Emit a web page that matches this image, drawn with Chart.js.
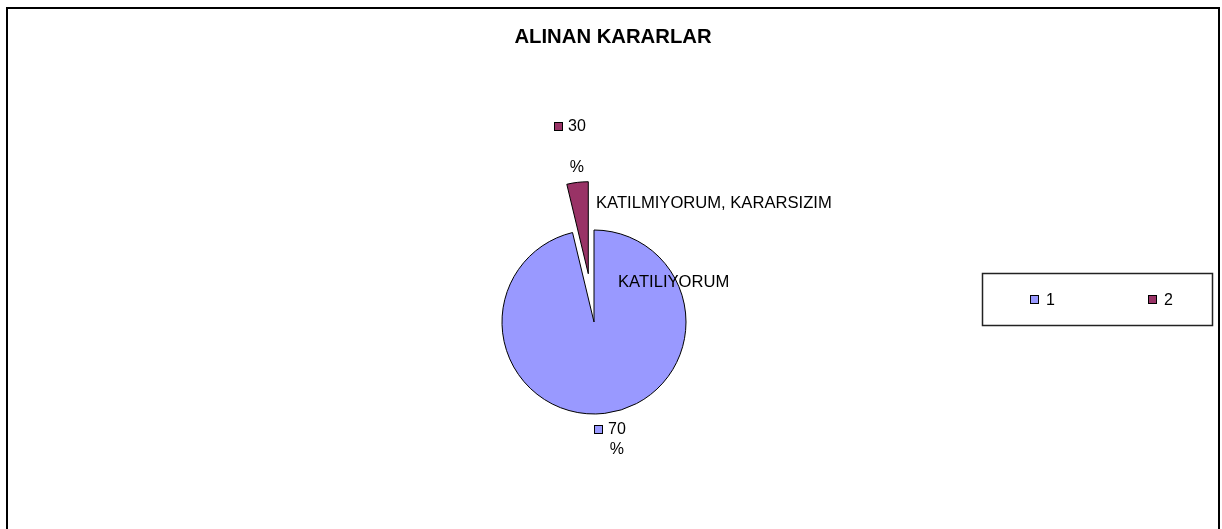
<!DOCTYPE html>
<html>
<head>
<meta charset="utf-8">
<title>ALINAN KARARLAR</title>
<script src="https://cdn.jsdelivr.net/npm/chart.js@4.4.1/dist/chart.umd.min.js"></script>
<style>
  html, body { margin: 0; padding: 0; background: #fff; overflow: hidden; }
  #wrap { position: relative; width: 1222px; height: 529px; }
  #frame {
    position: absolute; left: 6px; top: 7px; width: 1214px; height: 600px;
    border: 2px solid #000; box-sizing: border-box;
  }
  #chart { position: absolute; left: 0; top: 0; }
</style>
</head>
<body>
<div id="wrap">
  <div id="frame"></div>
  <canvas id="chart" width="1222" height="529"></canvas>
</div>
<script>
// chart data
const titleText = "ALINAN KARARLAR";
const legendLabels = ["1", "2"];
const categories = ["KATILIYORUM", "KATILMIYORUM, KARARSIZIM"];
const shares = [96.25, 3.75];          // slice sizes as drawn
const percentText = ["70", "30"];      // data label text shown on the chart
const sliceColors = ["#9999FF", "#993366"];

const FONT = "Arial, 'Liberation Sans', sans-serif";

// label placement, relative to the pie centre
const categoryPos = [
  { dx: 24, dy: -40 },
  { dx: 2, dy: -119 },
];
const percentPos = [
  { dx: 0, dy: 107, pctDy: 128 },
  { dx: -40, dy: -196, pctDy: -154 },
];

function drawKey(ctx, x, y, color) {
  ctx.fillStyle = color;
  ctx.fillRect(x, y, 9, 9);
  ctx.strokeStyle = "#000";
  ctx.lineWidth = 1;
  ctx.strokeRect(x + 0.5, y + 0.5, 8, 8);
}

// Excel style explode: move the whole slice out along its middle angle,
// same size and angle (chart.js offset also grows/narrows the arc)
const explodeSlices = {
  id: "explodeSlices",
  afterDatasetsUpdate(chart, args, opts) {
    const dist = opts.distance || [];
    chart.getDatasetMeta(0).data.forEach((arc, i) => {
      const d = dist[i] || 0;
      if (!d) return;
      const mid = (arc.startAngle + arc.endAngle) / 2;
      arc.x += Math.cos(mid) * d;
      arc.y += Math.sin(mid) * d;
    });
  },
};

const textLayer = {
  id: "textLayer",
  afterDatasetsDraw(chart) {
    const ctx = chart.ctx;
    const arcs = chart.getDatasetMeta(0).data;
    const cx = arcs[0].x;
    const cy = arcs[0].y;
    const colors = chart.data.datasets[0].backgroundColor;

    ctx.save();
    ctx.textBaseline = "middle";

    // title
    ctx.fillStyle = "#000";
    ctx.font = "bold 20.3px " + FONT;
    ctx.textAlign = "center";
    ctx.fillText(titleText, 613, 37);

    // category names
    ctx.font = "16.6px " + FONT;
    ctx.textAlign = "left";
    categories.forEach((c, i) => {
      ctx.fillStyle = "#000";
      ctx.fillText(c, cx + categoryPos[i].dx, cy + categoryPos[i].dy);
    });

    // percent labels with legend key
    ctx.font = "16px " + FONT;
    percentText.forEach((t, i) => {
      const p = percentPos[i];
      const kx = Math.round(cx + p.dx);
      const ky = Math.round(cy + p.dy - 4.5);
      drawKey(ctx, kx, ky, colors[i]);
      ctx.fillStyle = "#000";
      ctx.textAlign = "left";
      const tx = kx + 14;
      ctx.fillText(t, tx, cy + p.dy + 1);
      const w = ctx.measureText(t).width;
      ctx.textAlign = "center";
      ctx.fillText("%", tx + w / 2, cy + p.pctDy);
    });

    // legend box
    ctx.strokeStyle = "#222";
    ctx.lineWidth = 1.5;
    ctx.strokeRect(982.5, 273.5, 230, 52);
    const itemX = [1030, 1148];
    chart.data.labels.forEach((l, i) => {
      drawKey(ctx, itemX[i], 295, colors[i]);
      ctx.fillStyle = "#000";
      ctx.textAlign = "left";
      ctx.fillText(l, itemX[i] + 16, 300.5);
    });

    ctx.restore();
  },
};

new Chart(document.getElementById("chart"), {
  type: "pie",
  data: {
    labels: legendLabels,
    datasets: [
      {
        data: shares,
        backgroundColor: sliceColors,
        borderColor: "#000",
        borderWidth: 1,
        clip: false,
      },
    ],
  },
  options: {
    responsive: false,
    animation: false,
    radius: 92,
    layout: { padding: { left: 0, right: 34, top: 115, bottom: 0 } },
    plugins: {
      legend: { display: false },
      title: { display: false },
      tooltip: { enabled: false },
      explodeSlices: { distance: [0, 48.6] },
    },
  },
  plugins: [explodeSlices, textLayer],
});
</script>
</body>
</html>
